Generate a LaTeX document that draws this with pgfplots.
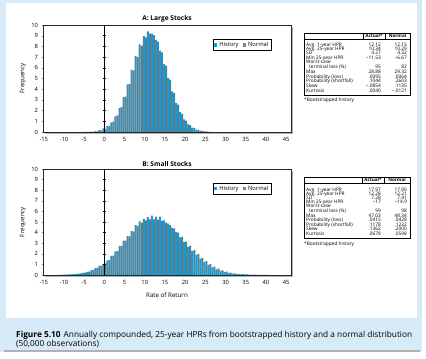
\documentclass[border=0pt]{standalone}
\usepackage{fontspec}
\setmainfont{Open Sans}
\usepackage{pgfplots}
\pgfplotsset{compat=1.18}
\usepackage{pgfplotstable}

\definecolor{hist}{HTML}{1B9AD2}
\definecolor{norm}{HTML}{557F93}
\definecolor{normleg}{HTML}{7A8790}
\definecolor{frameblue}{HTML}{D6EBF7}
\definecolor{capblue}{HTML}{DDEFFA}

\pgfplotstableread{
x H N
-5 0.01 0.00
-4 0.02 0.00
-3 0.04 0.02
-2 0.08 0.06
-1 0.17 0.14
0 0.33 0.30
1 0.55 0.58
2 0.90 0.98
3 1.45 1.55
4 2.25 2.32
5 3.25 3.30
6 4.45 4.48
7 5.80 5.75
8 7.10 7.00
9 8.20 8.08
10 8.95 8.85
11 9.40 9.20
12 9.20 9.05
13 8.60 8.45
14 7.60 7.45
15 6.35 6.20
16 5.05 4.90
17 3.80 3.65
18 2.70 2.55
19 1.85 1.70
20 1.18 1.06
21 0.72 0.64
22 0.42 0.37
23 0.23 0.20
24 0.12 0.10
25 0.05 0.05
26 0.02 0.02
}\largedata

\pgfplotstableread{
x H N
-11 0.01 0.02
-10 0.03 0.04
-9 0.04 0.05
-8 0.05 0.07
-7 0.08 0.10
-6 0.12 0.15
-5 0.20 0.22
-4 0.30 0.32
-3 0.45 0.48
-2 0.65 0.68
-1 0.85 0.88
0 1.05 1.10
1 1.38 1.40
2 1.80 1.82
3 2.22 2.25
4 2.72 2.75
5 3.25 3.25
6 3.70 3.65
7 4.15 4.10
8 4.70 4.60
9 5.05 4.95
10 5.30 5.15
11 5.45 5.25
12 5.60 5.25
13 5.50 5.20
14 5.50 5.10
15 5.15 4.95
16 4.85 4.70
17 4.45 4.40
18 4.05 4.00
19 3.55 3.60
20 3.10 3.15
21 2.65 2.75
22 2.25 2.35
23 1.90 1.98
24 1.55 1.62
25 1.22 1.30
26 0.95 1.02
27 0.72 0.80
28 0.52 0.60
29 0.38 0.44
30 0.26 0.32
31 0.19 0.23
32 0.14 0.16
33 0.10 0.11
34 0.07 0.08
35 0.05 0.05
36 0.03 0.04
37 0.02 0.03
38 0.02 0.02
39 0.01 0.01
40 0.01 0.01
}\smalldata

\pgfplotsset{
  histax/.style={
    scale only axis, width=248pt,
    xmin=-15.2, xmax=46.2, ymin=0, ymax=10,
    xtick={-15,-10,...,45}, ytick={0,...,10},
    tick align=outside, tick pos=left, major tick length=1.5pt,
    tick label style={font=\fontsize{5.8}{6}\selectfont},
    /pgf/number format/assume math mode=true,
    axis line style={black!85, line width=0.5pt},
    axis background/.style={fill=white},
    legend style={at={(rel axis cs:0.685,0.87)}, anchor=north west,
      draw=black, line width=0.4pt, fill=white,
      font=\fontsize{5.8}{6}\selectfont, inner sep=0.8pt,
      /tikz/every even column/.append style={column sep=2pt}},
    legend columns=2,
  },
  hbar/.style={ybar, bar width=0.5, draw=none,
    legend image code/.code={\fill[##1] (0pt,-1.7pt) rectangle (3.4pt,1.7pt);}},
}

\newcommand{\trow}[4]{%
  \node[anchor=base west, inner sep=0] at (306,359-#1) {#2};%
  \node[anchor=base east, inner sep=0] at (381,359-#1) {#3};%
  \node[anchor=base east, inner sep=0] at (407,359-#1) {#4};}

\begin{document}
\begin{tikzpicture}
\begin{scope}[x=1pt,y=1pt]
\useasboundingbox (0,0) rectangle (426,359);
\fill[frameblue] (0,0) rectangle (426,359);
\fill[white] (6,359-318) rectangle (417,356);
\fill[white] (0,0) rectangle (426,359-352);
\fill[black!30] (4,359-352) rectangle (420,359-350.5);
\fill[white] (422,0) rectangle (426,359);
\fill[black!30] (45,225) rectangle (293.2,332);
\fill[black!30] (45,82) rectangle (293.2,188);
\end{scope}

% ---------- Panel A ----------
\begin{axis}[histax, height=107pt, at={(43pt,227pt)}, anchor=south west]
\addplot[hbar, fill=hist, bar shift=-0.25] table[x=x,y=H] {\largedata};
\addplot[hbar, fill=norm, bar shift=0.25, legend image code/.code={\fill[normleg] (0pt,-1.7pt) rectangle (3.4pt,1.7pt);}] table[x=x,y=N] {\largedata};
\legend{History, Normal}
\addplot[black, line width=0.7pt, forget plot] coordinates {(0,0) (0,10)};
\addplot[black, only marks, mark=-, mark size=1.3pt, mark options={line width=0.5pt}, forget plot] coordinates {(0,1) (0,2) (0,3) (0,4) (0,5) (0,6) (0,7) (0,8) (0,9)};
\end{axis}

% ---------- Panel B ----------
\begin{axis}[histax, height=106pt, at={(43pt,84pt)}, anchor=south west]
\addplot[hbar, fill=hist, bar shift=-0.25] table[x=x,y=H] {\smalldata};
\addplot[hbar, fill=norm, bar shift=0.25, legend image code/.code={\fill[normleg] (0pt,-1.7pt) rectangle (3.4pt,1.7pt);}] table[x=x,y=N] {\smalldata};
\legend{History, Normal}
\addplot[black, line width=0.7pt, forget plot] coordinates {(0,0) (0,10)};
\addplot[black, only marks, mark=-, mark size=1.3pt, mark options={line width=0.5pt}, forget plot] coordinates {(0,1) (0,2) (0,3) (0,4) (0,5) (0,6) (0,7) (0,8) (0,9)};
\end{axis}

\begin{scope}[x=1pt,y=1pt]
\node[font=\fontsize{6.6}{7}\selectfont\bfseries] at (167,359-19) {A: Large Stocks};
\node[font=\fontsize{6.6}{7}\selectfont\bfseries] at (167,359-164) {B: Small Stocks};
\node[font=\fontsize{6.2}{7}\selectfont, rotate=90] at (23,359-78.5) {Frequency};
\node[font=\fontsize{6.2}{7}\selectfont, rotate=90] at (23,359-222) {Frequency};
\node[font=\fontsize{6.2}{7}\selectfont] at (167,359-295) {Rate of Return};

\begin{scope}[font=\fontsize{4.8}{5}\selectfont]
\draw[line width=0.4pt] (304,359-95) rectangle (410,359-33);
\draw[line width=0.4pt] (304,359-39) -- (410,359-39);
\draw[line width=0.4pt] (363,359-33) -- (363,359-39);
\draw[line width=0.4pt] (385,359-33) -- (385,359-39);
\node[font=\fontsize{4.6}{5}\selectfont\bfseries] at (374,359-36) {Actual*};
\node[font=\fontsize{4.6}{5}\selectfont\bfseries] at (397.5,359-36) {Normal};
\trow{46.5}{Avg. 1-year HPR}{12.12}{12.15}
\trow{50.7}{Avg. 25-year HPR}{10.34}{10.29}
\trow{55.0}{SD}{4.27}{4.32}
\trow{59.3}{Min 25-year HPR}{–11.53}{–6.67}
\node[anchor=base west, inner sep=0] at (306,359-63.7) {Worst-case};
\trow{68.5}{\hspace{3pt}terminal loss (\%)}{95}{82}
\trow{73.5}{Max}{28.88}{29.32}
\trow{78.3}{Probability (loss)}{.0095}{.0064}
\trow{82.6}{Probability (shortfall)}{.1044}{.2603}
\trow{87.2}{Skew}{–.0854}{.1135}
\trow{92.2}{Kurtosis}{.0040}{–.0121}
\node[anchor=base west, inner sep=0] at (304,359-102) {*Bootstrapped history};

\draw[line width=0.4pt] (304,359-238) rectangle (410,359-177);
\draw[line width=0.4pt] (304,359-183) -- (410,359-183);
\draw[line width=0.4pt] (362,359-177) -- (362,359-183);
\draw[line width=0.4pt] (384,359-177) -- (384,359-183);
\node[font=\fontsize{4.6}{5}\selectfont\bfseries] at (373,359-180) {Actual*};
\node[font=\fontsize{4.6}{5}\selectfont\bfseries] at (397,359-180) {Normal};
\trow{191.5}{Avg. 1-year HPR}{17.97}{17.95}
\trow{195.4}{Avg. 25-year HPR}{12.28}{12.21}
\trow{199.2}{SD}{7.28}{7.41}
\trow{203.4}{Min 25-year HPR}{–17}{–14.9}
\node[anchor=base west, inner sep=0] at (306,359-207.8) {Worst-case};
\trow{212.2}{\hspace{3pt}terminal loss (\%)}{99}{98}
\trow{217.2}{Max}{47.03}{48.34}
\trow{221.8}{Probability (loss)}{.0415}{.0428}
\trow{226.5}{Probability (shortfall)}{.1178}{.1232}
\trow{230.8}{Skew}{.1362}{.2000}
\trow{235.8}{Kurtosis}{.0678}{.0598}
\node[anchor=base west, inner sep=0] at (304,359-245.5) {*Bootstrapped history};
\end{scope}

\node[anchor=base west, inner sep=0, font=\fontsize{8.3}{9}\selectfont] at (16,359-337.5) {\textbf{Figure 5.10}\hspace{3pt}Annually compounded, 25-year HPRs from bootstrapped history and a normal distribution};
\node[anchor=base west, inner sep=0, font=\fontsize{8.3}{9}\selectfont] at (16,359-346.5) {(50,000 observations)};
\end{scope}
\end{tikzpicture}
\end{document}
